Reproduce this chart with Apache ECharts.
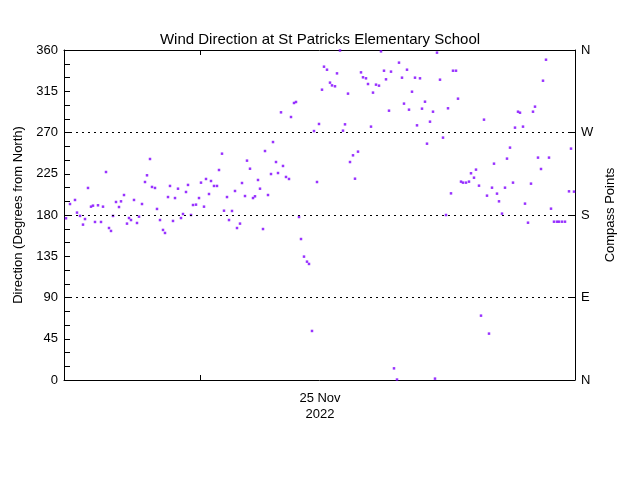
<!DOCTYPE html>
<html><head><meta charset="utf-8">
<script src="https://cdn.jsdelivr.net/npm/echarts@6/dist/echarts.min.js"></script>
<style>html,body{margin:0;background:#fff}#c{width:640px;height:480px}</style>
</head><body><div id="c"></div>
<script>
const hours = [0.2,0.6,1.1,1.3,1.6,1.9,2.1,2.4,2.7,2.9,3.1,3.4,3.7,3.9,4.2,4.5,4.7,4.9,5.2,5.5,5.7,6.0,6.3,6.5,6.7,7.0,7.3,7.5,7.8,8.1,8.3,8.6,8.8,9.1,9.3,9.6,9.9,10.1,10.4,10.6,10.9,11.1,11.4,11.7,11.9,12.2,12.4,12.7,12.9,13.2,13.5,13.7,14.0,14.2,14.5,14.7,15.0,15.3,15.5,15.8,16.0,16.3,16.5,16.8,17.1,17.3,17.6,17.8,18.1,18.3,18.6,18.9,19.1,19.4,19.6,19.9,20.1,20.4,20.7,20.9,21.2,21.4,21.7,21.9,22.2,22.5,22.7,23.0,23.2,23.5,23.7,24.0,24.3,24.5,24.8,25.0,25.3,25.5,
25.8,26.0,26.3,26.6,26.8,27.1,27.3,27.6,27.9,28.1,28.4,28.6,28.9,29.1,29.4,29.7,29.9,30.2,30.4,30.7,30.9,31.2,31.5,31.7,32.0,32.2,32.5,32.7,33.0,33.3,33.5,33.8,34.0,34.3,34.5,34.8,35.1,35.3,35.6,35.8,36.1,36.3,36.6,36.9,37.1,37.3,37.6,37.9,38.2,38.4,38.7,38.9,39.2,39.4,39.7,39.9,40.2,40.5,40.7,41.0,41.2,41.5,41.7,42.0,42.3,42.5,42.8,43.0,43.3,43.5,43.8,44.1,44.3,44.6,44.9,45.1,45.4,45.6,45.9,46.1,46.4,46.7,46.9,47.1,47.4,47.7,47.9,48.2,48.5,48.7,49.0,49.3,49.5,49.8,50.1,50.5,50.7,51.0];
const degrees = [176.4,192,196.4,182.6,179,169.5,175.6,209.5,189.1,190.2,172.4,190.6,172.4,189.1,226.9,165.8,162.6,179,194.2,188.7,194.9,201.8,170.6,176.7,174.5,196.4,171.3,178.2,192,216,223.3,241.1,210.6,209.5,186.6,174.5,163.7,160.4,199.6,211.7,173.5,198.5,208.7,176.7,181.1,205.1,212.8,180,190.9,191.3,198.5,215.3,189.1,219.3,202.9,217.1,211.7,211.7,229.1,246.9,184.7,199.6,174.5,184.4,206.2,165.8,170.6,214.9,200.7,239.3,230.5,198.5,200.4,218.2,208.7,164.7,249.8,201.8,224.7,259.6,237.8,225.8,292,233.5,221.5,219.3,286.9,302.2,303.3,177.8,153.8,134.6,129.1,126.6,53.5,271.6,216,279.3,
316.7,341.8,338.5,324.4,321.4,320.4,334.5,359.5,272,278.9,312.4,237.8,245.1,219.6,249.1,335.6,330.2,329.1,322.9,276.4,313.5,322.2,321.1,358.5,337.4,328,293.8,336.4,12.7,0.5,346.2,329.8,301.5,338.5,294.9,314.5,329.8,277.8,329.1,296,303.6,257.8,281.8,292.7,1.5,357.1,327.6,264.4,180,296.4,203.6,337.4,337.4,306.9,216.4,215.3,215.3,216.4,225.5,220.7,229.5,212,70.2,284,201.1,50.6,209.8,236,203.3,194.9,181.5,209.8,241.5,253.5,215.3,275.3,292.7,291.6,276.4,192.4,171.6,214.2,292.7,298.2,242.6,230.2,326.5,349.4,242.6,186.9,172.7,172.7,172.7,172.7,172.7,205.8,252.4,205.5];
const compassLabels = {0:'N',90:'E',180:'S',270:'W',360:'N'};
const refLines = [90,180,270];
const dateTickHour = 13.6, dateLabelHour = 25.6;
const pts = hours.map((h,i)=>[h,degrees[i]]);
const font = 'Liberation Sans';
const chart = echarts.init(document.getElementById('c'));
const axLine = {show:true,onZero:false,lineStyle:{color:'#000',width:1}};
chart.setOption({
  animation:false,
  title:{text:'Wind Direction at St Patricks Elementary School',left:'center',top:27,textStyle:{fontFamily:font,fontSize:15,fontWeight:'normal',color:'#000'}},
  grid:{left:64,right:65,top:50,bottom:100},
  xAxis:[{type:'value',min:0,max:51.1,position:'bottom',axisLine:axLine,splitLine:{show:false},
    axisTick:{show:true,inside:true,length:5,customValues:[dateTickHour],lineStyle:{color:'#000'}},
    axisLabel:{customValues:[dateLabelHour],formatter:()=>'25 Nov\n2022',fontFamily:font,fontSize:13,color:'#000',lineHeight:16,margin:10}},
    {type:'value',min:0,max:51.1,position:'top',axisLine:axLine,splitLine:{show:false},
    axisTick:{show:true,inside:true,length:5,customValues:[dateTickHour],lineStyle:{color:'#000'}},axisLabel:{show:false}}],
  yAxis:[{type:'value',min:0,max:360,interval:15,position:'left',axisLine:axLine,
    axisTick:{show:true,inside:true,length:6,lineStyle:{color:'#000'}},
    axisLabel:{formatter:v=>v%45===0?String(v):'',fontFamily:font,fontSize:13,color:'#000',margin:6},
    splitLine:{show:false},
    name:'Direction (Degrees from North)',nameLocation:'middle',nameGap:38,nameTextStyle:{fontFamily:font,fontSize:13,color:'#000'}},
    {type:'value',min:0,max:360,interval:90,position:'right',axisLine:axLine,
    axisTick:{show:true,inside:true,length:6,lineStyle:{color:'#000'}},
    axisLabel:{formatter:v=>compassLabels[v],fontFamily:font,fontSize:13,color:'#000',margin:6},
    splitLine:{show:false},
    name:'Compass Points',nameLocation:'middle',nameGap:22,nameRotate:90,nameTextStyle:{fontFamily:font,fontSize:13,color:'#000'}}],
  series:[{type:'scatter',data:pts,symbol:'rect',symbolSize:2.5,itemStyle:{color:'#7f00ff'},silent:true,
    markLine:{silent:true,symbol:'none',label:{show:false},lineStyle:{color:'#000',type:[2,4],width:1},data:refLines.map(v=>({yAxis:v}))}}]
});
</script></body></html>
